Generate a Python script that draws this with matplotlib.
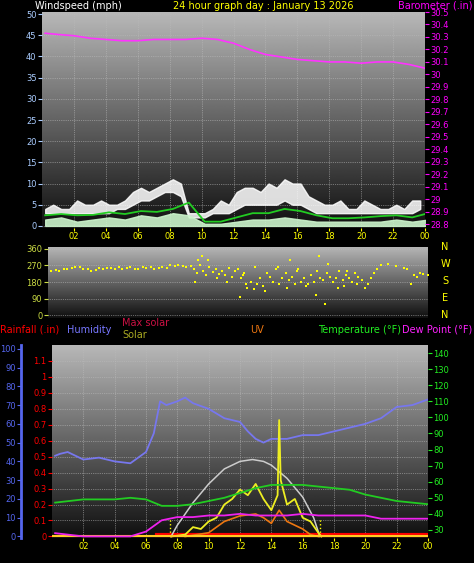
import numpy as np
import matplotlib
matplotlib.use("Agg")
import matplotlib.pyplot as plt

# ---- data ----
baro_h = [0.2, 1, 2, 3, 4, 5, 6, 7, 8, 9, 10, 11, 12, 13, 14, 15, 16, 17, 18, 19, 20, 21, 22, 23, 24]
baro = [30.33, 30.32, 30.31, 30.29, 30.28, 30.27, 30.27, 30.28, 30.28, 30.28, 30.29, 30.28, 30.25,
        30.20, 30.16, 30.14, 30.12, 30.11, 30.10, 30.10, 30.09, 30.10, 30.10, 30.08, 30.05]

gust_h = list(np.arange(0.2, 24.1, 0.5))
gust = [4, 5, 4, 4, 6, 5, 5, 6, 5, 5, 6, 8, 9, 8, 9, 10, 11, 10, 3, 3, 3, 4, 6, 5,
        8, 9, 9, 8, 10, 9, 11, 10, 10, 7, 6, 5, 5, 6, 4, 4, 6, 5, 4, 4, 5, 4, 6, 6]
gust_low = [3, 3, 3, 3, 3, 3, 3, 3, 3, 4, 4, 5, 6, 6, 7, 8, 8, 7, 2, 2, 2, 3, 3, 3,
            4, 5, 5, 5, 5, 5, 6, 5, 5, 4, 3, 3, 3, 3, 3, 3, 3, 3, 3, 3, 3, 3, 3, 4]
wind_h = list(np.arange(0.2, 24.3, 1.0))
wind_avg = [2.5, 2.8, 2.5, 2.6, 3.2, 2.8, 3.5, 3.3, 4.0, 5.5, 1.0, 1.0, 2.0, 3.0, 3.0, 4.0,
            3.5, 2.5, 1.8, 1.8, 2.0, 2.3, 2.5, 2.0, 3.0]
wind_low = [1.5, 2, 1, 1.5, 2, 1.5, 2.5, 2, 3, 2.5, 0.5, 0.5, 1, 1.5, 1.5, 2, 1.5, 1, 1, 1, 1, 1, 1.5, 1, 1.5]

dir_h = [0.2, 0.5, 1, 1.5, 2, 2.5, 3, 3.5, 4, 4.5, 5, 5.5, 6, 6.5, 7, 7.5, 8, 8.5, 9,
         9.2, 9.4, 9.6, 9.8, 10, 10.2, 10.4, 10.6, 10.8, 11, 11.2, 11.4, 11.6, 11.8, 12, 12.2,
         12.4, 12.6, 12.8, 13, 13.2, 13.4, 13.6, 13.8, 14, 14.2, 14.4, 14.6, 14.8, 15, 15.2,
         15.4, 15.6, 15.8, 16, 16.2, 16.4, 16.6, 16.8, 17, 17.2, 17.4, 17.6, 17.8, 18, 18.2,
         18.4, 18.6, 18.8, 19, 19.2, 19.4, 19.6, 19.8, 20, 20.2, 20.4, 20.6, 20.8, 21, 21.5,
         22, 22.5, 22.7, 22.9, 23.1, 23.3, 23.5, 23.7, 24,
         9.5, 10.1, 10.7, 11.3, 12.3, 13.1, 13.7, 14.5, 15.1, 15.7, 16.3, 17.1, 17.7, 18.3,
         18.9, 19.5, 9.3, 12.1, 16.9, 17.5, 18.7, 9.7, 12.5, 15.3,
         0.7, 1.2, 1.7, 2.2, 2.7, 3.2, 3.7, 4.2, 4.7, 5.2, 5.7, 6.2, 6.7, 7.2, 7.7, 8.2, 8.7]
dir_deg = [240, 245, 250, 255, 260, 250, 245, 250, 255, 260, 255, 250, 260, 262, 255, 258, 265, 268, 265,
           250, 230, 270, 240, 220, 260, 235, 250, 225, 240, 220, 255, 210, 240, 250, 200,
           230, 150, 180, 140, 170, 200, 160, 230, 210, 180, 250, 170, 200, 230, 190,
           210, 170, 250, 180, 200, 170, 220, 180, 240, 200, 190, 230, 210, 180, 200,
           240, 190, 220, 200, 180, 230, 210, 190, 150, 170, 200, 230, 250, 270, 280,
           265, 255, 250, 170, 220, 210, 230, 225, 220,
           300, 300, 200, 180, 220, 260, 130, 260, 150, 240, 160, 320, 280, 150,
           240, 170, 180, 100, 110, 60, 160, 320, 170, 300,
           238, 248, 262, 250, 242, 255, 258, 248, 252, 262, 248, 256, 250, 262, 270, 272, 262]

hum_h = [0.2, 0.5, 1, 2, 3, 4, 5, 5.5, 6, 6.5, 6.9, 7.3, 8, 8.5, 9, 10, 11, 12, 12.5, 13, 13.5,
         14, 15, 16, 17, 18, 19, 20, 21, 22, 23, 24]
hum = [43, 44, 45, 41, 42, 40, 39, 42, 45, 55, 72, 70, 72, 74, 71, 68, 63, 61, 56, 52, 50,
       52, 52, 54, 54, 56, 58, 60, 63, 69, 70, 73]
temp_h = [0.2, 2, 4, 5, 6, 7, 8, 9, 10, 11, 12, 13, 14, 15, 16, 17, 18, 19, 20, 21, 22, 23, 24]
temp = [47, 49, 49, 50, 49, 45, 45, 46, 48, 50, 53, 56, 58, 58, 58, 57, 56, 55, 52, 50, 48, 47, 46]
dew = [28, 26, 26, 26, 29, 36, 38, 38, 39, 39, 40, 39, 39, 39, 40, 39, 39, 39, 39, 37, 37, 37, 37]

solar_h = [7.6, 8.5, 9, 9.5, 10, 10.5, 11, 11.5, 12, 12.5, 13, 13.5, 14, 14.4, 14.5, 14.6, 15,
           15.5, 16, 16.5, 17, 17.2]
solar = [0, 1, 5, 4, 8, 10, 17, 20, 25, 22, 28, 20, 14, 22, 62, 30, 17, 20, 10, 8, 2, 0]
uv_h = [8.5, 10, 11, 12, 13, 13.5, 14, 14.5, 15, 16, 16.5, 17]
uv = [0, 2, 8, 11, 12, 10, 7, 14, 8, 4, 1, 0]
maxsol_h = [7.6, 8, 9, 10, 11, 12, 12.8, 13.5, 14, 15, 16, 16.7, 17.1]
maxsol = [0, 6, 18, 28, 36, 40, 41, 40, 38, 31, 21, 10, 0]
rain_h = [6.7, 24]
rain = [0.01, 0.01]
sunrise, sunset = 7.5, 17.1

hour_ticks = list(range(2, 25, 2))
hour_labels = ["02", "04", "06", "08", "10", "12", "14", "16", "18", "20", "22", "00"]

W, H = 474, 563
fig = plt.figure(figsize=(W / 100, H / 100), dpi=100, facecolor="black")
FS = 6
TS = 7


def px_ax(x0, y0, x1, y1):
    return fig.add_axes([x0 / W, 1 - y1 / H, (x1 - x0) / W, (y1 - y0) / H])


def gray_bg(ax, top=0.72, bottom=0.06):
    grad = np.linspace(top, bottom, 256).reshape(-1, 1)
    ax.imshow(grad, cmap="gray", vmin=0, vmax=1, aspect="auto", extent=[0, 1, 0, 1],
              transform=ax.transAxes, zorder=0)


def style(ax, color):
    ax.tick_params(axis="y", colors=color, labelsize=FS, length=3, pad=1)
    ax.tick_params(axis="x", colors="yellow", labelsize=FS, length=2, pad=1)
    for s in ax.spines.values():
        s.set_visible(False)


# ---- top: wind and barometer ----
ax1 = px_ax(42, 12, 425, 228)
gray_bg(ax1)
ax1.set_xlim(0, 24)
ax1.set_ylim(-0.5, 50.5)
ax1.set_yticks(range(0, 51, 5))
ax1.set_xticks(hour_ticks)
ax1.set_xticklabels(hour_labels)
ax1.grid(color="#bbbbbb", lw=0.5, ls=":")
ax1.fill_between(gust_h, gust_low, gust, color="white", alpha=0.85, zorder=2)
ax1.fill_between(wind_h, 0, wind_low, color="#ccf5cc", alpha=0.9, zorder=2)
ax1.plot(wind_h, wind_avg, color="#22cc22", lw=1.3, zorder=3)
style(ax1, "#aaccff")
ax1b = ax1.twinx()
ax1b.set_ylim(28.77, 30.5)
bticks = np.round(np.arange(28.8, 30.51, 0.1), 1)
ax1b.set_yticks(bticks)
ax1b.set_yticklabels([f"{v:g}" for v in bticks])
ax1b.plot(baro_h, baro, color="#ff33ff", lw=1.2)
style(ax1b, "#ff00ff")
fig.text(35 / W, 1 - 6 / H, "Windspeed (mph)", color="white", fontsize=TS, va="center")
fig.text(263 / W, 1 - 6 / H, "24 hour graph day : January 13 2026", color="yellow", fontsize=TS,
         va="center", ha="center")
fig.text(472 / W, 1 - 6 / H, "Barometer (.in)", color="#ff00ff", fontsize=TS, va="center", ha="right")

# ---- middle: wind direction ----
ax2 = px_ax(48, 247, 428, 318)
gray_bg(ax2)
ax2.set_xlim(0, 24)
ax2.set_ylim(-15, 370)
ax2.set_yticks([0, 90, 180, 270, 360])
ax2.set_xticks([])
ax2.grid(axis="y", color="#bbbbbb", lw=0.5, ls=":")
ax2.scatter(dir_h, dir_deg, s=3, color="yellow", marker="s", lw=0, zorder=3)
style(ax2, "#ccdd44")
for lab, y in zip("NWSEN", [247, 264, 281, 298, 315]):
    fig.text(445 / W, 1 - y / H, lab, color="yellow", fontsize=TS, ha="center", va="center")

# ---- bottom: rain, humidity, solar, temperature ----
ax3 = px_ax(52, 345, 428, 538)
gray_bg(ax3)
ax3.set_xlim(0, 24)
ax3.set_ylim(-0.01, 1.2)
rticks = np.round(np.arange(0, 1.11, 0.1), 1)
ax3.set_yticks(rticks)
ax3.set_yticklabels([f"{v:g}" for v in rticks])
ax3.set_xticks(hour_ticks)
ax3.set_xticklabels(hour_labels)
ax3.grid(color="#bbbbbb", lw=0.5, ls=":")
ax3.plot(rain_h, rain, color="red", lw=3, zorder=4)
style(ax3, "red")

axh = ax3.twinx()
axh.yaxis.set_ticks_position("left")
axh.yaxis.set_label_position("left")
axh.spines["left"].set_position(("outward", 22))
axh.set_ylim(-0.8, 102)
axh.set_yticks(range(0, 101, 10))
axh.plot(hum_h, hum, color="#7777ee", lw=1.3)
axh.plot(maxsol_h, maxsol, color="#cccccc", lw=1.1)
axh.plot(solar_h, solar, color="#eeee22", lw=1.3)
axh.plot(uv_h, uv, color="#ee7711", lw=1.2)
axh.vlines([sunrise, sunset], 0, 10, color="yellow", ls=":", lw=1)
axh.axhline(0, color="#ffcc22", lw=1.5)
style(axh, "#5566ee")
axh.spines["left"].set_visible(True)
axh.spines["left"].set_color("#5566ee")
axh.spines["left"].set_linewidth(2)

axt = ax3.twinx()
axt.set_ylim(25, 145)
axt.set_yticks(range(30, 141, 10))
axt.plot(temp_h, temp, color="#22cc22", lw=1.3)
axt.plot(temp_h, dew, color="#ee22ee", lw=1.3)
style(axt, "#22ee22")

fig.text(0, 1 - 330 / H, "Rainfall (.in)", color="red", fontsize=TS, va="center")
fig.text(67 / W, 1 - 330 / H, "Humidity", color="#7777ff", fontsize=TS, va="center")
fig.text(122 / W, 1 - 323 / H, "Max solar", color="#cc1144", fontsize=TS, va="center")
fig.text(122 / W, 1 - 335 / H, "Solar", color="#aaaa22", fontsize=TS, va="center")
fig.text(250 / W, 1 - 330 / H, "UV", color="#ee7711", fontsize=TS, va="center")
fig.text(318 / W, 1 - 330 / H, "Temperature (\u00b0F)", color="#22ee22", fontsize=TS, va="center")
fig.text(472 / W, 1 - 330 / H, "Dew Point (\u00b0F)", color="#ff22ff", fontsize=TS, va="center",
         ha="right")

fig.savefig("out.png", dpi=100, facecolor="black")
